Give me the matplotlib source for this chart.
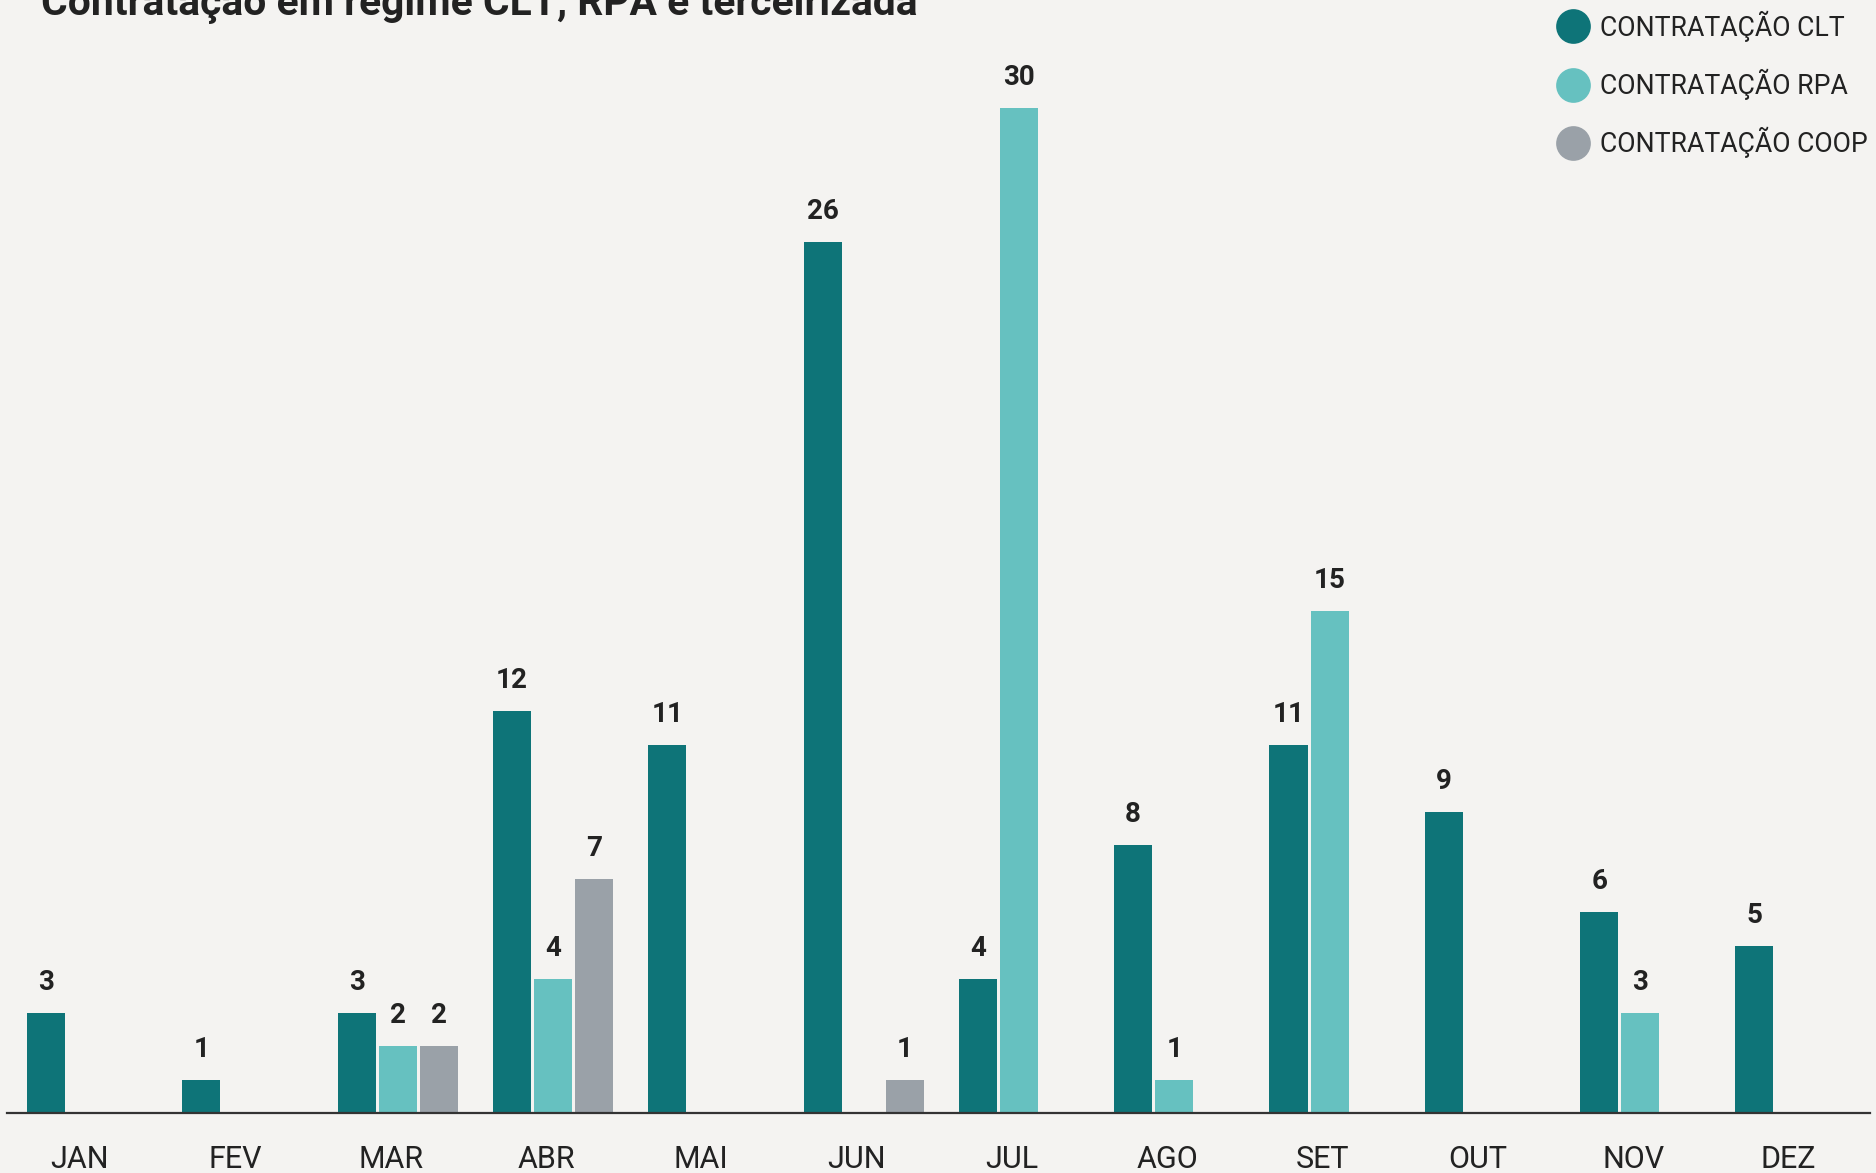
import matplotlib.pyplot as plt
from matplotlib.lines import Line2D
import numpy as np

plt.rcParams['font.family'] = ['Roboto', 'DejaVu Sans']

# data
months = ['JAN', 'FEV', 'MAR', 'ABR', 'MAI', 'JUN', 'JUL', 'AGO', 'SET', 'OUT', 'NOV', 'DEZ']
clt = [3, 1, 3, 12, 11, 26, 4, 8, 11, 9, 6, 5]
rpa = [0, 0, 2, 4, 0, 0, 30, 1, 15, 0, 3, 0]
coop = [0, 0, 2, 7, 0, 1, 0, 0, 0, 0, 0, 0]
series = ['CONTRATAÇÃO CLT', 'CONTRATAÇÃO RPA', 'CONTRATAÇÃO COOP']
colors = ['#0e7478', '#66c1c0', '#9aa1a8']
bg = '#f4f3f1'
txt = '#222222'

W, H = 1876, 1173
fig = plt.figure(figsize=(W / 100, H / 100), dpi=100, facecolor=bg)
ax = fig.add_axes([7 / W, 60 / H, (1870 - 7) / W, 31 * 33.5 / H])
ax.set_facecolor(bg)

x = np.arange(len(months))
step = 41 / 155.3
bw = 38 / 155.3
for k, (vals, col) in enumerate(zip([clt, rpa, coop], colors)):
    for xi, v in zip(x, vals):
        if v <= 0:
            continue
        xp = xi + (k - 1) * step
        ax.bar(xp, v, width=bw, color=col, linewidth=0, zorder=2)
        ax.annotate(str(v), (xp, v), xytext=(0, 12), textcoords='offset points',
                    ha='center', va='bottom', fontsize=20, fontweight='bold', color=txt)

ax.set_xlim(-0.515, 11.48)
ax.set_ylim(0, 31)
for s in ['top', 'right', 'left']:
    ax.spines[s].set_visible(False)
ax.spines['bottom'].set_color('#333333')
ax.spines['bottom'].set_linewidth(1.6)
ax.spines['bottom'].set_zorder(3)
ax.set_yticks([])
ax.set_xticks(x - 0.045)
ax.set_xticklabels(months, fontsize=22, color=txt)
ax.tick_params(axis='x', length=0, pad=23)

fig.text(41 / W, 1 - 15 / H, 'Contratação em regime CLT, RPA e terceirizada',
         fontsize=29.3, fontweight='bold', color=txt, va='baseline', ha='left')

handles = [Line2D([], [], marker='o', linestyle='', markersize=25, markerfacecolor=c,
                  markeredgewidth=0) for c in colors]
leg = fig.legend(handles, series, loc='upper left', bbox_to_anchor=(1541 / W, 1 + 3 / H),
                 frameon=False, fontsize=19.2, labelcolor=txt, handletextpad=0.32,
                 labelspacing=1.02, borderpad=0, handlelength=1.4)

fig.savefig('out.png', dpi=100, facecolor=bg)
